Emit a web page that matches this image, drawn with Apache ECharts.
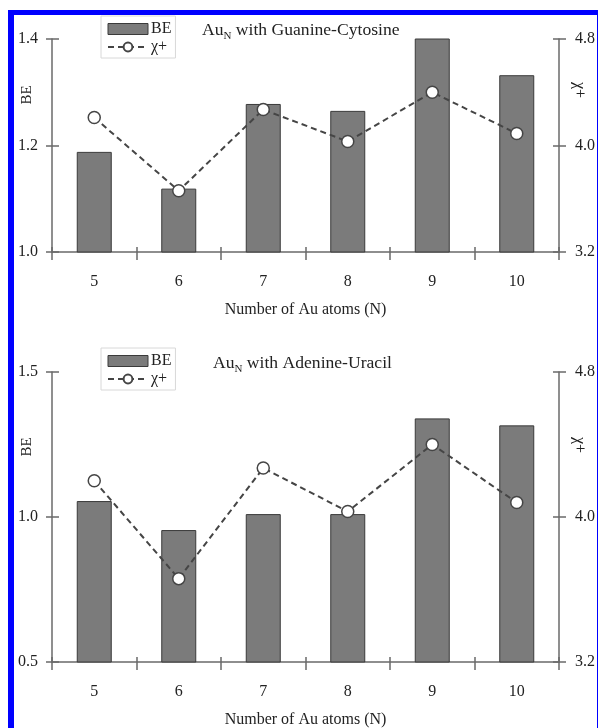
<!DOCTYPE html>
<html>
<head>
<meta charset="utf-8">
<script src="https://cdn.jsdelivr.net/npm/echarts@6/dist/echarts.min.js"></script>
<style>
html,body{margin:0;padding:0;background:#fff;}
#main{width:599px;height:728px;position:absolute;left:0;top:0;}
#frame{position:absolute;left:8px;top:10px;width:583px;height:740px;border-left:6px solid #0000ff;border-top:5px solid #0000ff;border-right:1px solid #0000ff;pointer-events:none;}
</style>
</head>
<body>
<div id="main"></div>
<div id="frame"></div>
<script>
const categories = ['5', '6', '7', '8', '9', '10'];
const beGC = [1.188, 1.119, 1.278, 1.265, 1.404, 1.332];
const chiGC = [4.21, 3.66, 4.27, 4.03, 4.40, 4.09];
const beAU = [1.055, 0.955, 1.01, 1.01, 1.34, 1.316];
const chiAU = [4.20, 3.66, 4.27, 4.03, 4.40, 4.08];
const titles = ['Guanine-Cytosine', 'Adenine-Uracil'];
const leftRanges = [[1.0, 1.4, 0.2], [0.5, 1.5, 0.5]];
const rightRange = [3.2, 4.8, 0.8];
const leftName = 'BE';
const rightName = 'χ+';
const xName = 'Number of Au atoms (N)';

const FONT = 'Liberation Serif';
const AX = '#6a6a6a';
const TXT = '#222';

const chart = echarts.init(document.getElementById('main'));

const grids = [
  {left: 52, right: 40, top: 39, height: 213, containLabel: false, outerBoundsMode: 'none'},
  {left: 52, right: 40, top: 372, height: 290, containLabel: false, outerBoundsMode: 'none'}
];

const xAxis = [], yAxis = [], series = [], legend = [], title = [], graphic = [];
const titleLeft = [202, 213];
const titleTop = [19, 352];
const legendTop = [16, 348];
const leftNamePos = [[27, 95], [27, 447]];
const rightNamePos = [[579, 90], [579, 445]];

for (let g = 0; g < 2; g++) {
  xAxis.push({
    type: 'category', gridIndex: g, data: categories, boundaryGap: true, position: 'bottom',
    axisLine: {lineStyle: {color: AX, width: 1.5}},
    axisTick: {show: true, inside: false, length: 8, lineStyle: {color: AX, width: 1.5}},
    axisLabel: {margin: 22, fontFamily: FONT, fontSize: 16, color: TXT},
    name: xName, nameLocation: 'middle', nameGap: 50,
    nameTextStyle: {fontFamily: FONT, fontSize: 16, color: TXT}
  });
  xAxis.push({
    type: 'category', gridIndex: g, data: categories, boundaryGap: true, position: 'bottom',
    axisLine: {show: false},
    axisTick: {show: true, inside: true, length: 5, lineStyle: {color: AX, width: 1.5}},
    axisLabel: {show: false}
  });
  const lr = leftRanges[g];
  yAxis.push({
    type: 'value', gridIndex: g, position: 'left', min: lr[0], max: lr[1], interval: lr[2],
    splitLine: {show: false},
    axisLine: {show: true, lineStyle: {color: AX, width: 1.5}},
    axisTick: {show: true, inside: false, length: 6, lineStyle: {color: AX, width: 1.5}},
    axisLabel: {margin: 14, fontFamily: FONT, fontSize: 16, color: TXT, formatter: v => v.toFixed(1)}
  });
  yAxis.push({
    type: 'value', gridIndex: g, position: 'right', min: rightRange[0], max: rightRange[1], interval: rightRange[2],
    splitLine: {show: false},
    axisLine: {show: true, lineStyle: {color: AX, width: 1.5}},
    axisTick: {show: true, inside: false, length: 7, lineStyle: {color: AX, width: 1.5}},
    axisLabel: {margin: 16, fontFamily: FONT, fontSize: 16, color: TXT, formatter: v => v.toFixed(1)}
  });
  yAxis.push({
    type: 'value', gridIndex: g, position: 'left', min: lr[0], max: lr[1], interval: lr[2],
    splitLine: {show: false}, axisLine: {show: false}, axisLabel: {show: false},
    axisTick: {show: true, inside: true, length: 7, lineStyle: {color: AX, width: 1.5}}
  });
  yAxis.push({
    type: 'value', gridIndex: g, position: 'right', min: rightRange[0], max: rightRange[1], interval: rightRange[2],
    splitLine: {show: false}, axisLine: {show: false}, axisLabel: {show: false},
    axisTick: {show: true, inside: true, length: 6, lineStyle: {color: AX, width: 1.5}}
  });

  const be = g === 0 ? beGC : beAU;
  const chi = g === 0 ? chiGC : chiAU;
  series.push({
    name: 'BE', type: 'bar', xAxisIndex: g * 2, yAxisIndex: g * 4, data: be, barWidth: 35,
    itemStyle: {color: '#7b7b7b', borderColor: '#3a3a3a', borderWidth: 1}, z: 2
  });
  series.push({
    name: 'χ+', type: 'line', xAxisIndex: g * 2, yAxisIndex: g * 4 + 1, data: chi,
    symbol: 'circle', symbolSize: 12,
    lineStyle: {color: '#454545', width: 2, type: [6, 4]},
    itemStyle: {color: '#fff', borderColor: '#454545', borderWidth: 1.5}, z: 3
  });

  legend.push({
    left: 101, top: legendTop[g], orient: 'vertical', itemWidth: 40, itemHeight: 11, itemGap: 2,
    padding: [5, 4, 3, 6], borderColor: '#d8d8d8', borderWidth: 1,
    textStyle: {fontFamily: FONT, fontSize: 16, color: TXT, padding: [0, 0, 0, -2]},
    data: [
      {name: 'BE', icon: 'rect', itemStyle: {color: '#7b7b7b', borderColor: '#3a3a3a', borderWidth: 1}},
      {name: 'χ+'}
    ]
  });
  title.push({
    text: '{a|Au}{s|N}{a| with ' + titles[g] + '}',
    left: titleLeft[g], top: titleTop[g], padding: 0,
    textStyle: {
      fontWeight: 'normal',
      rich: {
        a: {fontFamily: FONT, fontSize: 17.6, fontWeight: 'normal', color: TXT, lineHeight: 20, verticalAlign: 'bottom'},
        s: {fontFamily: FONT, fontSize: 11, fontWeight: 'normal', color: TXT, lineHeight: 20, verticalAlign: 'bottom', padding: [0, 0, -3, 0]}
      }
    }
  });
  graphic.push({
    type: 'text', x: leftNamePos[g][0], y: leftNamePos[g][1], rotation: Math.PI / 2,
    style: {text: leftName, fontFamily: FONT, fontSize: 15, fill: TXT, align: 'center', verticalAlign: 'middle'}
  });
  graphic.push({
    type: 'text', x: rightNamePos[g][0], y: rightNamePos[g][1], rotation: -Math.PI / 2,
    style: {text: rightName, fontFamily: FONT, fontSize: 16, fill: TXT, align: 'center', verticalAlign: 'middle'}
  });
}

chart.setOption({
  animation: false,
  backgroundColor: '#fff',
  grid: grids,
  title: title,
  legend: legend,
  xAxis: xAxis,
  yAxis: yAxis,
  series: series,
  graphic: graphic
});
</script>
</body>
</html>
